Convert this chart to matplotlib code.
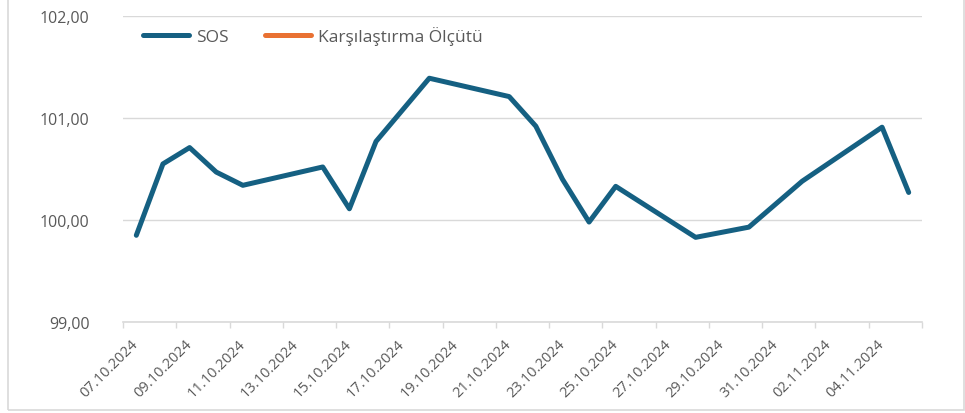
import numpy as np
import matplotlib
matplotlib.use("Agg")
import matplotlib.pyplot as plt
import matplotlib.dates as mdates
from matplotlib.patches import Rectangle
from matplotlib.transforms import ScaledTranslation
import datetime as dt

plt.rcParams['font.family'] = ['Open Sans', 'DejaVu Sans']

# data
dates = ['07.10.2024', '08.10.2024', '09.10.2024', '10.10.2024', '11.10.2024',
         '14.10.2024', '15.10.2024', '16.10.2024', '18.10.2024', '21.10.2024',
         '22.10.2024', '23.10.2024', '24.10.2024', '25.10.2024', '28.10.2024',
         '30.10.2024', '01.11.2024', '04.11.2024', '05.11.2024']
sos = [99.85, 100.55, 100.71, 100.47, 100.34,
       100.52, 100.11, 100.77, 101.39, 101.21,
       100.92, 100.40, 99.98, 100.33, 99.83,
       99.93, 100.38, 100.91, 100.27]
benchmark = []  # Karşılaştırma Ölçütü - no values shown
series_names = ['SOS', 'Karşılaştırma Ölçütü']
y_ticks = [99.0, 100.0, 101.0, 102.0]

blue = '#156082'
orange = '#E97132'
grid_c = '#D9D9D9'
text_c = '#595959'

# each value sits in the middle of its day (excel date axis)
x = [dt.datetime.strptime(d, '%d.%m.%Y') + dt.timedelta(hours=12) for d in dates]
start = dt.datetime(2024, 10, 7)
end = dt.datetime(2024, 11, 6)

fig = plt.figure(figsize=(9.65, 4.14), dpi=100)
ax = fig.add_axes([123/965, 1 - 323/414, (922-123)/965, (323-17)/414])

ax.plot(x, sos, color=blue, lw=3.6, solid_capstyle='round', solid_joinstyle='round',
        label=series_names[0])
ax.plot(x[:len(benchmark)], benchmark, color=orange, lw=3.6, solid_capstyle='round',
        label=series_names[1])

ax.set_xlim(start, end)
ax.set_ylim(99, 102)
ax.set_yticks(y_ticks)
ax.set_yticklabels([f'{v:.2f}'.replace('.', ',') for v in y_ticks])
ax.grid(axis='y', color=grid_c, lw=1)
ax.set_axisbelow(True)

xt = [start + dt.timedelta(days=2*i) for i in range(16)]
ax.set_xticks(xt)
ax.set_xticklabels([t.strftime('%d.%m.%Y') for t in xt[:-1]] + [''])

for s in ['top', 'right', 'left']:
    ax.spines[s].set_visible(False)
ax.spines['bottom'].set_color(grid_c)
ax.spines['bottom'].set_linewidth(1.2)

ax.tick_params(axis='y', length=0, pad=24, labelsize=11.5, labelcolor=text_c)
ax.tick_params(axis='x', length=4, width=1, color=grid_c, pad=6.5,
               labelsize=10.5, labelcolor=text_c)

shift = ScaledTranslation(8/100, 0, fig.dpi_scale_trans)
for lab in ax.get_xticklabels():
    lab.set_rotation(45)
    lab.set_rotation_mode('anchor')
    lab.set_ha('right')
    lab.set_va('top')
    lab.set_transform(lab.get_transform() + shift)

leg = ax.legend(loc='center left', bbox_to_anchor=(143/965, 1 - 37/414),
                bbox_transform=fig.transFigure, ncol=2, frameon=False,
                fontsize=12.5, handlelength=2.64, handletextpad=0.44,
                columnspacing=2.05, borderaxespad=0, borderpad=0)
for t in leg.get_texts():
    t.set_color(text_c)

# light chart-area frame
fig.patches.append(Rectangle((8/965, 3/414), (964-8)/965, 1.2, transform=fig.transFigure,
                             fill=False, edgecolor=grid_c, lw=1.2))

fig.savefig('out.png', dpi=100)
